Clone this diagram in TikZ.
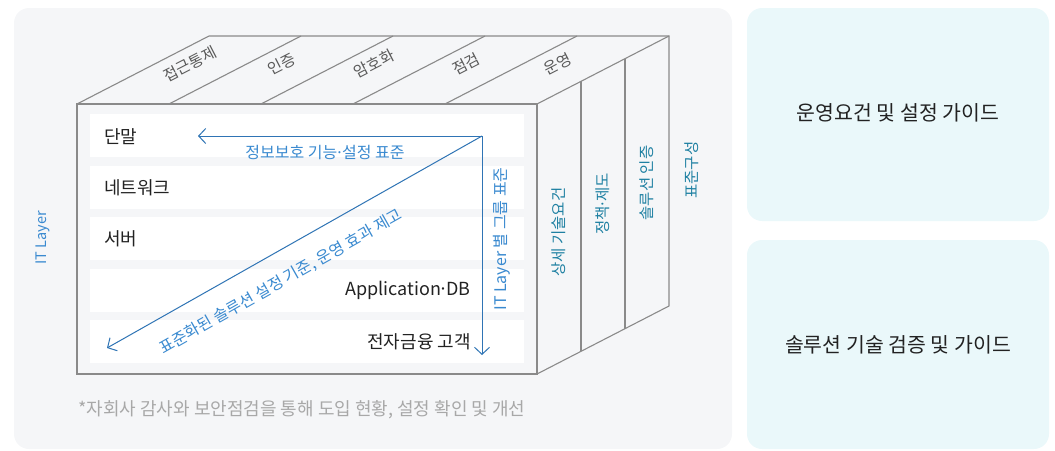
\documentclass[tikz,border=0pt]{standalone}
\usepackage{fontspec}
\setmainfont{Noto Sans CJK KR}
\usetikzlibrary{arrows.meta}
\newcommand{\tdot}{\hbox to 0.3em{\hss·\hss}}
\definecolor{panelbg}{HTML}{F5F6F8}
\definecolor{sidebg}{HTML}{EAF8FA}
\definecolor{edge}{HTML}{8A8A8A}
\definecolor{darktext}{HTML}{222222}
\definecolor{arrowblue}{HTML}{2F74B5}
\definecolor{labelblue}{HTML}{3A8AD0}
\definecolor{tealtext}{HTML}{1E80A2}
\definecolor{notegray}{HTML}{A8A8A8}
\tikzset{
  panel/.style={fill=panelbg, draw=none, rounded corners=15pt},
  sidebox/.style={fill=sidebg, draw=none, rounded corners=15pt},
  boxline/.style={draw=edge, line width=1.1pt},
  rowbox/.style={fill=white, draw=none},
  rowtext/.style={text=darktext, font=\fontsize{18}{20}\selectfont, inner sep=0pt},
  toplabel/.style={text=darktext!75, font=\fontsize{15.5}{17}\selectfont, rotate=27.25, inner sep=0pt},
  sidelabel/.style={text=tealtext, font=\fontsize{15.5}{17}\selectfont, rotate=90, inner sep=0pt},
  bluelabel/.style={text=labelblue, font=\fontsize{16}{18}\selectfont, inner sep=0pt},
  guidetext/.style={text=darktext, font=\fontsize{20.5}{22}\selectfont, inner sep=0pt},
  flow/.style={draw=arrowblue, line width=1pt, -{Straight Barb[length=7pt,width=15pt]}},
}
\begin{document}
\begin{tikzpicture}[x=1pt,y=-1pt]
\useasboundingbox (0,0) rectangle (1055,450);
% panels
\path[panel] (14,8) rectangle (732,449);
\path[sidebox] (747,8) rectangle (1049,221);
\path[sidebox] (747,240) rectangle (1049,449);
\node[guidetext] (g1) at (898,113) {운영요건 및 설정 가이드};
\node[guidetext] (g2) at (898,345) {솔루션 기술 검증 및 가이드};
% box: front face (77,104)-(537,374), depth (132,-68)
\draw[boxline] (77,104) rectangle (537,374);
\draw[boxline] (77,104) -- (209,36) -- (669,36) -- (669,306) -- (537,374);
\draw[boxline] (537,104) -- (669,36);
\foreach \k in {1,...,4} {
  \draw[boxline] (77+92*\k,104) -- (209+92*\k,36);
}
\draw[boxline] (581,81.3) -- (581,351.3);
\draw[boxline] (625,58.7) -- (625,328.7);
% rows
\foreach \i in {0,...,4} {
  \path[rowbox] (90,114+51.5*\i) rectangle (524,157+51.5*\i);
}
\node[rowtext, anchor=west] (r1) at (104,137) {단말};
\node[rowtext, anchor=west] (r2) at (104,187.5) {네트워크};
\node[rowtext, anchor=west] (r3) at (104,239) {서버};
\node[rowtext, anchor=east] (r4) at (471,290) {Application\tdot DB};
\node[rowtext, anchor=east] (r5) at (471,342) {전자금융 고객};
% top labels
\node[toplabel] (t1) at (190,64) {접근통제};
\node[toplabel] (t2) at (282,64) {인증};
\node[toplabel] (t3) at (374,64) {암호화};
\node[toplabel] (t4) at (466,64) {점검};
\node[toplabel] (t5) at (558,64) {운영};
% side labels
\node[sidelabel] (s1) at (559,232) {상세 기술요건};
\node[sidelabel] (s2) at (603,204) {정책\tdot 제도};
\node[sidelabel] (s3) at (647,183) {솔루션 인증};
\node[sidelabel] (s4) at (692,170) {표준구성};
% IT Layer
\node[sidelabel, text=labelblue, font=\fontsize{14.5}{16}\selectfont] (itl) at (43,238) {IT Layer};
% arrows
\coordinate (src) at (482,136);
\coordinate (hend) at (198,136);
\coordinate (vend) at (482,355);
\coordinate (dend) at (107,348);
\draw[flow] (src) -- (hend);
\draw[flow] (src) -- (vend);
\draw[flow] (src) -- (dend);
\node[bluelabel] (l1) at (325,153) {정보보호 기능\tdot 설정 표준};
\node[bluelabel, rotate=90] (l2) at (502,239) {IT Layer 별 그룹 표준};
\node[bluelabel, rotate=29.5] (l3) at (281,282) {표준화된 솔루션 설정 기준, 운영 효과 제고};
% note
\node[text=notegray, font=\fontsize{18}{20}\selectfont, anchor=west, inner sep=0pt] (note) at (78,410) {*자회사 감사와 보안점검을 통해 도입 현황, 설정 확인 및 개선};
\end{tikzpicture}
\end{document}
